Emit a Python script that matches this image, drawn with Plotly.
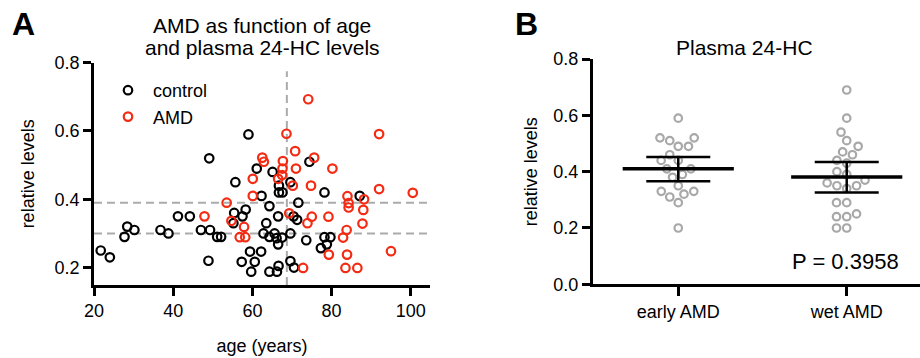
import plotly.graph_objects as go

# ---------------- data ----------------
control_age = [21.7, 24.0, 27.7, 28.4, 30.2, 36.8, 38.8, 41.2, 44.2, 47.0,
               49.3, 49.1, 48.9, 51.1, 52.1, 55.4, 55.2, 55.7, 57.5, 58.3,
               59.0, 61.1, 62.3, 64.3, 63.5, 65.1, 66.7, 66.7, 67.6, 69.6,
               71.6, 66.5, 70.4, 71.3, 62.8, 64.3, 65.6, 66.1, 67.5, 66.5,
               69.6, 73.6, 59.4, 62.2, 57.3, 60.6, 59.7, 64.3, 66.2, 66.6,
               69.6, 70.5, 74.4, 78.2, 87.1, 78.2, 79.7, 78.8, 77.3]
control_level = [0.25, 0.23, 0.29, 0.32, 0.31, 0.31, 0.30, 0.35, 0.35, 0.31,
                 0.31, 0.52, 0.22, 0.29, 0.29, 0.36, 0.33, 0.45, 0.35, 0.37,
                 0.59, 0.49, 0.41, 0.38, 0.33, 0.48, 0.44, 0.42, 0.42, 0.45,
                 0.39, 0.35, 0.35, 0.34, 0.30, 0.29, 0.30, 0.286, 0.288, 0.268,
                 0.30, 0.28, 0.247, 0.247, 0.217, 0.217, 0.188, 0.188, 0.188, 0.205,
                 0.219, 0.200, 0.51, 0.42, 0.41, 0.289, 0.289, 0.268, 0.257]

amd_age = [47.9, 53.5, 54.7, 57.9, 56.8, 58.2, 60.1, 60.1, 62.5, 62.9,
           67.7, 67.6, 67.5, 66.5, 68.6, 70.8, 71.0, 70.2, 69.3, 74.1,
           75.6, 80.2, 74.8, 72.8, 92.0, 92.0, 100.5, 84.0, 84.3, 84.3,
           88.2, 88.0, 87.8, 73.9, 75.0, 79.2, 83.8, 82.9, 79.3, 83.9,
           95.0, 83.5, 86.5]
amd_level = [0.35, 0.39, 0.337, 0.319, 0.289, 0.289, 0.46, 0.41, 0.522, 0.51,
             0.512, 0.49, 0.471, 0.46, 0.592, 0.541, 0.49, 0.44, 0.359, 0.693,
             0.522, 0.49, 0.44, 0.199, 0.591, 0.43, 0.419, 0.409, 0.389, 0.376,
             0.40, 0.369, 0.329, 0.33, 0.349, 0.349, 0.31, 0.288, 0.238, 0.238,
             0.248, 0.199, 0.199]

age_cut = 68.7
level_cuts = [0.39, 0.30]

groups = ["early AMD", "wet AMD"]
early_amd = [0.59, 0.52, 0.51, 0.52, 0.49, 0.49, 0.46, 0.44, 0.44, 0.41,
             0.41, 0.39, 0.38, 0.35, 0.33, 0.33, 0.32, 0.31, 0.29, 0.20]
wet_amd = [0.69, 0.59, 0.54, 0.51, 0.49, 0.47, 0.46, 0.44, 0.43, 0.40,
           0.39, 0.37, 0.36, 0.35, 0.35, 0.34, 0.29, 0.29, 0.25, 0.24,
           0.24, 0.20, 0.20]
group_mean = [0.410, 0.381]
ci_low = [0.366, 0.326]
ci_high = [0.452, 0.434]
p_text = "P = 0.3958"

yticks_a = [0.2, 0.4, 0.6, 0.8]
xticks_a = [20, 40, 60, 80, 100]
yticks_b = [0.0, 0.2, 0.4, 0.6, 0.8]

# ---------------- layout helpers ----------------
W, H = 920, 358
FONT = "Liberation Sans, Arial, Helvetica, sans-serif"
RED = "#f42a12"
GRAY = "#a8a8a8"


def px(x):
    return x / W


def py(y):
    return 1 - y / H


# panel A geometry (pixels)
A_L, A_R, A_T, A_B = 94, 430, 62.7, 285
A_XR = [20, 104.85]
A_YR = [0.149, 0.8]
# panel B geometry
B_L, B_R, B_T, B_B = 592.7, 920, 59, 284.3
B_XR = [-0.508, 1.435]
B_YR = [0, 0.8]


def swarm(values, diam_px, y_scale, x_scale):
    """simple beeswarm: returns horizontal offsets (in category units)"""
    placed = []
    offs = [0.0] * len(values)
    order = sorted(range(len(values)), key=lambda i: values[i])
    for i in order:
        y = values[i] * y_scale
        cands = [0.0]
        for (qx, qy) in placed:
            dy = abs(qy - y)
            if dy < diam_px:
                dx = (diam_px ** 2 - dy ** 2) ** 0.5
                cands += [qx + dx, qx - dx]
        cands.sort(key=lambda c: (abs(c), c))
        for c in cands:
            if all((c - qx) ** 2 + (y - qy) ** 2 >= diam_px ** 2 - 1e-6 for qx, qy in placed):
                offs[i] = c / x_scale
                placed.append((c, y))
                break
    return offs


b_yscale = (B_B - B_T) / (B_YR[1] - B_YR[0])
b_xscale = (B_R - B_L) / (B_XR[1] - B_XR[0])

fig = go.Figure()

# dashed reference lines (panel A)
for lv in level_cuts:
    fig.add_trace(go.Scatter(x=A_XR, y=[lv, lv], mode="lines", showlegend=False,
                             line=dict(color="#ababab", width=2, dash="8px,5px"),
                             hoverinfo="skip", xaxis="x", yaxis="y"))
fig.add_trace(go.Scatter(x=[age_cut, age_cut], y=[A_YR[0], 0.775], mode="lines",
                         showlegend=False,
                         line=dict(color="#ababab", width=2, dash="8px,5px"),
                         hoverinfo="skip", xaxis="x", yaxis="y"))

fig.add_trace(go.Scatter(x=control_age, y=control_level, mode="markers", name="control",
                         marker=dict(symbol="circle-open", size=8.5, color="black",
                                     line=dict(width=2.2)),
                         cliponaxis=False, xaxis="x", yaxis="y"))
fig.add_trace(go.Scatter(x=amd_age, y=amd_level, mode="markers", name="AMD",
                         marker=dict(symbol="circle-open", size=8.5, color=RED,
                                     line=dict(width=2.2)),
                         cliponaxis=False, xaxis="x", yaxis="y"))

# panel B points
for gi, vals in enumerate([early_amd, wet_amd]):
    offs = swarm(vals, 10.2, b_yscale, b_xscale)
    fig.add_trace(go.Scatter(x=[gi + o for o in offs], y=vals, mode="markers",
                             showlegend=False,
                             marker=dict(symbol="circle-open", size=7.5, color=GRAY,
                                         line=dict(width=2.2)),
                             xaxis="x2", yaxis="y2"))

# mean and 95% CI
mx, my, ex, ey = [], [], [], []
for gi in range(len(groups)):
    mx += [gi - 0.33, gi + 0.33, None]
    my += [group_mean[gi], group_mean[gi], None]
    ex += [gi - 0.19, gi + 0.19, None, gi - 0.19, gi + 0.19, None, gi, gi, None]
    ey += [ci_high[gi], ci_high[gi], None, ci_low[gi], ci_low[gi], None,
           ci_low[gi], ci_high[gi], None]
fig.add_trace(go.Scatter(x=ex, y=ey, mode="lines", showlegend=False,
                         line=dict(color="black", width=2.5), xaxis="x2", yaxis="y2"))
fig.add_trace(go.Scatter(x=mx, y=my, mode="lines", showlegend=False,
                         line=dict(color="black", width=3.5), xaxis="x2", yaxis="y2"))

axis_common = dict(showgrid=False, zeroline=False, showline=True, linecolor="black",
                   linewidth=2.5, ticks="outside", ticklen=8, tickwidth=2.5,
                   tickcolor="black", tickfont=dict(size=18, color="black", family=FONT),
                   fixedrange=True, automargin=False)

fig.update_layout(
    width=W, height=H,
    margin=dict(l=0, r=0, t=0, b=0),
    paper_bgcolor="white", plot_bgcolor="white",
    font=dict(family=FONT, color="black"),
    showlegend=True,
    legend=dict(x=px(103), y=py(72), xanchor="left", yanchor="top",
                font=dict(size=18, family=FONT, color="black"),
                itemwidth=40, bgcolor="rgba(0,0,0,0)", borderwidth=0),
    xaxis=dict(axis_common, domain=[px(A_L), px(A_R)], range=A_XR,
               tickvals=xticks_a, anchor="y",
               title=dict(text="age (years)", font=dict(size=18), standoff=20)),
    yaxis=dict(axis_common, domain=[py(A_B), py(A_T)], range=A_YR,
               tickvals=yticks_a, tickformat=".1f", anchor="x",
               title=dict(text="relative levels", font=dict(size=18), standoff=16)),
    xaxis2=dict(axis_common, domain=[px(B_L), px(B_R)], range=B_XR,
                tickvals=list(range(len(groups))), ticktext=groups, anchor="y2",
                ticklen=9),
    yaxis2=dict(axis_common, domain=[py(B_B), py(B_T)], range=B_YR,
                tickvals=yticks_b, tickformat=".1f", anchor="x2",
                title=dict(text="relative levels", font=dict(size=18), standoff=12)),
)

annos = [
    dict(text="<b>A</b>", x=px(10), y=py(24), xanchor="left", yanchor="middle",
         font=dict(size=32)),
    dict(text="<b>B</b>", x=px(513), y=py(24), xanchor="left", yanchor="middle",
         font=dict(size=32)),
    dict(text="AMD as function of age", x=px(262), y=py(26), xanchor="center",
         yanchor="middle", font=dict(size=21)),
    dict(text="and plasma 24-HC levels", x=px(262), y=py(48), xanchor="center",
         yanchor="middle", font=dict(size=21)),
    dict(text="Plasma 24-HC", x=px(744), y=py(48), xanchor="center",
         yanchor="middle", font=dict(size=21)),
    dict(text=p_text, x=px(845), y=py(261), xanchor="center", yanchor="middle",
         font=dict(size=22)),
]
for a in annos:
    a.update(xref="paper", yref="paper", showarrow=False)
    a["font"].update(family=FONT, color="black")
fig.update_layout(annotations=annos)

fig.write_html("out.html", config={"displayModeBar": False},
               post_script="document.body.style.margin='0';"
                           "document.body.style.overflow='hidden';")
